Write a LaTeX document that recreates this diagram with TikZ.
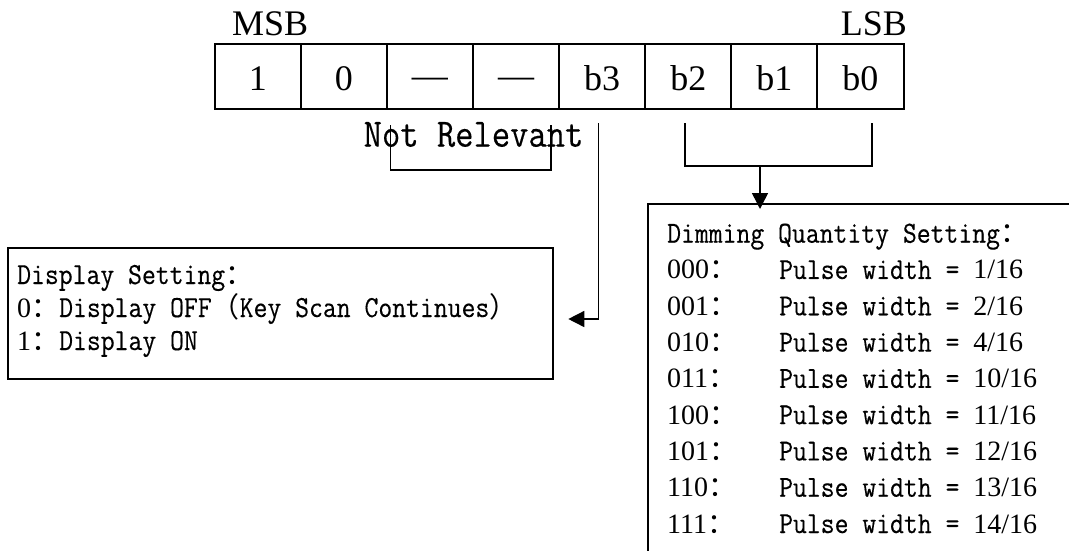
\documentclass[tikz,border=0pt]{standalone}
\usepackage{fontspec}
\setmainfont{Liberation Serif}
\newfontfamily\monof[FakeStretch=0.88,FakeBold=0.3]{Latin Modern Mono}
\newfontfamily\cjkf{Noto Sans CJK SC}
\usetikzlibrary{arrows.meta}
\newcommand\fw[1]{{\cjkf\fontsize{28}{30}\selectfont #1}}
\newcommand\dg[1]{{\rmfamily\fontsize{28}{30}\selectfont #1}}
\newcommand\boxfont{\monof\fontsize{30.6}{34}\selectfont}
\newcommand\emd{\raisebox{3pt}{—}}
\begin{document}
\begin{tikzpicture}[x=1pt,y=-1pt,line join=miter]
\tikzset{
  cell/.style={draw,line width=2pt,minimum width=86.1pt,minimum height=65.6pt,inner sep=0pt,
    text height=27pt,text depth=0pt,font=\fontsize{36}{40}\selectfont},
  conn/.style={line width=1.5pt},
  arr/.style={conn,-{Triangle[length=16pt,width=16pt]}},
  boxline/.style={anchor=base west,inner sep=0pt,font=\boxfont},
  hdr/.style={inner sep=0pt,font=\fontsize{36}{40}\selectfont},
  frame/.style={line width=2pt}
}
\useasboundingbox (0,0) rectangle (1069,550);
\fill[white] (0,0) rectangle (1069,550);
\clip (0,0) rectangle (1069,550);
% register
\foreach \t [count=\i from 0] in {1,0,\emd,\emd,b3,b2,b1,b0}
  \node[cell] (c\i) at ({214.7+86.1*(\i+0.5)},76.5) {\t};
\node[hdr,anchor=base west] (msb) at (232,35) {MSB};
\node[hdr,anchor=base east] (lsb) at (907,35) {LSB};
% not relevant
\node[anchor=base west,inner sep=0pt,font=\monof\fontsize{40.4}{44}\selectfont] (nr) at (363.5,146.7) {Not Relevant};
\coordinate (nrA) at (390.7,125);
\coordinate (nrB) at (551,125);
\draw[conn] (nrA) -- (390.7,170) -- (551,170) -- (nrB);
% display box
\node[draw,frame,anchor=north west,minimum width=545pt,minimum height=131pt,inner sep=0pt] (disp) at (6.7,246.7) {};
\node[boxline] (d1) at (17,284) {Display Setting\fw{：}};
\node[boxline] (d2) at (17,317) {\dg{0}\fw{：}Display OFF\fw{（}Key Scan Continues\fw{）}};
\node[boxline] (d3) at (17,350) {\dg{1}\fw{：}Display ON};
\coordinate (b3top) at (598.3,123);
\coordinate (dispin) at (568.3,319);
\draw[arr] (b3top) |- (dispin);
% dimming bracket
\coordinate (b2top) at (685,123);
\coordinate (b0top) at (872,123);
\coordinate (dimmid) at (760,166);
\coordinate (dimin) at (760,209);
\draw[conn] (b2top) -- (685,166) -- (872,166) -- (b0top);
\draw[arr] (dimmid) -- (dimin);
% dimming box (open to right and bottom)
\draw[frame] (1080,203.5) -- (647.7,203.5) -- (647.7,560);
\node[boxline] (m0) at (667,242.7) {Dimming Quantity Setting\fw{：}};
\foreach \code/\val [count=\k] in {000/1,001/2,010/4,011/10,100/11,101/12,110/13,111/14}
  \node[boxline] (m\k) at (667,{242.7+36.29*\k}) {\makebox[112pt][l]{\dg{\code}\fw{：}}Pulse width = \dg{\val/16}};
\end{tikzpicture}
\end{document}
